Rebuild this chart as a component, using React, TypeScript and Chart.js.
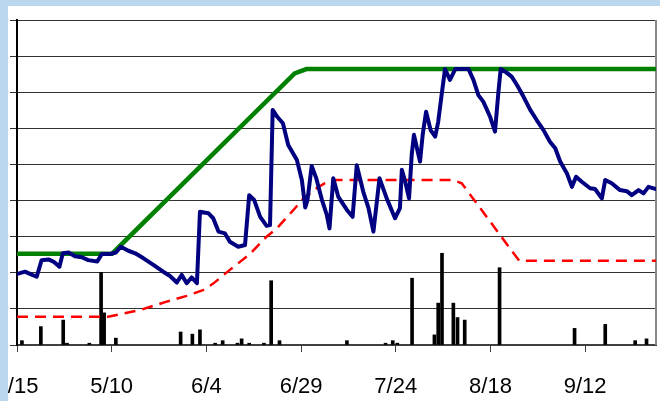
import React, { useEffect, useRef } from 'react';
import { Chart, registerables } from 'chart.js';

Chart.register(...registerables);

// x axis: days since 4/15
const xTickLabels = ['4/15', '5/10', '6/4', '6/29', '7/24', '8/18', '9/12'];

// navy series
const navyDays = [0.1, 2.1, 3.4, 5.2, 6.5, 8.3, 9.6, 11.2, 12.1, 13.6,
  15.3, 17.1, 18.8, 21.2, 22.4, 24.6, 26.1, 27.4, 29.4, 31.2,
  33.4, 36.0, 38.6, 40.4, 42.2, 43.5, 44.8, 46.1, 47.5, 48.3,
  50.5, 51.8, 53.2, 54.9, 56.2, 58.4, 60.2, 61.3, 62.6, 64.2,
  65.9, 66.8, 67.5, 68.7, 70.2, 71.6, 73.9, 75.2, 76.1, 76.7,
  77.8, 79.0, 80.5, 81.8, 82.5, 83.5, 84.8, 87.1, 88.6, 89.7,
  91.4, 92.8, 94.1, 95.7, 97.6, 99.8, 101.1, 101.6, 102.5, 103.5,
  104.2, 104.8, 105.7, 106.4, 107.1, 108.0, 109.2, 110.4, 111.2, 112.1,
  113.0, 114.3, 115.7, 119.2, 120.5, 121.8, 123.1, 124.9, 126.2, 127.1,
  127.7, 128.9, 130.6, 132.0, 133.7, 135.5, 137.2, 139.0, 140.7, 142.1,
  143.4, 145.2, 146.5, 147.6, 149.1, 151.3, 152.6, 154.4, 155.3, 157.0,
  159.2, 161.0, 162.3, 164.1, 165.4, 166.7, 168.7];
const navyValues = [19.7, 20.3, 19.7, 18.9, 23.5, 23.7, 23.1, 21.7, 25.4, 25.6,
  24.6, 24.3, 23.5, 23.1, 25.2, 25.2, 25.6, 27.2, 26.1, 25.4,
  24.0, 22.2, 20.3, 19.1, 17.3, 19.4, 17.1, 18.7, 17.1, 36.9,
  36.5, 35.1, 31.4, 30.9, 28.6, 27.2, 27.7, 41.5, 40.2, 35.5,
  33.0, 33.2, 65.1, 63.2, 61.4, 55.4, 51.2, 45.7, 38.1, 40.2,
  49.6, 46.2, 40.2, 36.0, 32.3, 46.2, 41.1, 37.4, 35.5, 49.8,
  42.5, 37.9, 31.4, 46.2, 40.6, 35.1, 37.9, 48.5, 45.2, 40.6,
  52.6, 58.2, 54.0, 50.8, 58.2, 64.6, 59.5, 57.7, 61.8, 69.2,
  76.4, 73.4, 76.4, 76.4, 73.4, 69.2, 67.4, 63.2, 59.1, 70.1,
  76.4, 75.7, 74.3, 72.0, 68.8, 65.1, 62.3, 59.5, 56.3, 54.5,
  50.8, 47.5, 43.8, 46.6, 45.2, 43.4, 43.2, 40.6, 45.7, 44.8,
  42.9, 42.6, 41.5, 42.9, 42.0, 43.8, 43.2];

// green series
const greenDays = [0, 25.1, 73.3, 76.4, 168.7];
const greenValues = [25.3, 25.3, 75.2, 76.4, 76.4];

// red dashed series
const redDays = [0, 24.0, 26.3, 32.5, 39.5, 44.8, 49.1, 51.8, 56.2, 61.5, 65.9, 68.6,
  73.0, 75.6, 79.1, 81.3, 83.5, 115.1, 117.4, 122.3, 127.5, 132.6, 168.7];
const redValues = [7.8, 7.8, 8.3, 9.7, 12.0, 13.6, 15.2, 17.0, 20.8, 25.2, 30.0, 32.3,
  37.4, 40.6, 43.4, 44.8, 45.7, 45.7, 44.8, 37.9, 30.5, 23.3, 23.3];

// black bars
const barDays = [1.3, 6.3, 12.2, 13.2, 19.1, 22.2, 23.0, 26.1, 43.2, 46.3,
  48.3, 52.3, 54.3, 58.2, 59.3, 61.3, 65.2, 67.1, 69.3, 87.1,
  97.3, 99.2, 100.4, 104.3, 110.2, 111.2, 112.2, 115.2, 116.3, 118.2,
  127.4, 147.2, 155.3, 163.2, 166.2];
const barValues = [1.2, 5.1, 6.9, 0.5, 0.5, 20.1, 8.9, 1.9, 3.6, 3.0,
  4.2, 0.5, 1.2, 0.5, 1.7, 0.5, 0.5, 17.8, 1.2, 1.2,
  0.5, 1.2, 0.5, 18.5, 2.8, 11.6, 25.4, 11.6, 7.6, 6.9,
  21.4, 4.6, 5.7, 1.2, 1.7];

const toPoints = (xs: number[], ys: number[]) => xs.map((x, i) => ({ x, y: ys[i] }));

export default function App() {
  const ref = useRef<HTMLCanvasElement>(null);

  useEffect(() => {
    const canvas = ref.current;
    if (!canvas) return;
    const borderPlugin = {
      id: 'plotRightBorder',
      beforeDatasetsDraw(chart: any) {
        const { ctx, chartArea } = chart;
        ctx.save();
        ctx.strokeStyle = '#8a8a8a';
        ctx.lineWidth = 2;
        ctx.beginPath();
        ctx.moveTo(chartArea.right, chartArea.top);
        ctx.lineTo(chartArea.right, chartArea.bottom);
        ctx.stroke();
        ctx.restore();
      },
    };
    const chart = new Chart(canvas, {
      type: 'line',
      data: {
        datasets: [
          {
            type: 'line',
            data: toPoints(navyDays, navyValues),
            borderColor: '#000080',
            borderWidth: 4,
            pointRadius: 0,
            tension: 0,
            borderJoinStyle: 'round',
            borderCapStyle: 'round',
            order: 0,
          },
          {
            type: 'line',
            data: toPoints(greenDays, greenValues),
            borderColor: '#008000',
            borderWidth: 4.5,
            pointRadius: 0,
            tension: 0,
            order: 1,
          },
          {
            type: 'line',
            data: toPoints(redDays, redValues),
            borderColor: '#FF0000',
            borderWidth: 2.5,
            borderDash: [11, 7],
            pointRadius: 0,
            tension: 0,
            order: 2,
          },
          {
            type: 'bar',
            data: toPoints(barDays, barValues),
            backgroundColor: '#000000',
            barThickness: 3,
            order: 3,
          } as any,
        ],
      },
      options: {
        responsive: false,
        animation: false,
        layout: { padding: { left: 0, right: 4, top: 14, bottom: 0 }, autoPadding: false } as any,
        plugins: { legend: { display: false }, tooltip: { enabled: false } },
        scales: {
          x: {
            type: 'linear',
            min: 0,
            max: 168.7,
            offset: false,
            afterFit: (s: any) => {
              s.height = 56;
              s.paddingLeft = 0;
              s.paddingRight = 0;
            },
            ticks: {
              stepSize: 25,
              includeBounds: false,
              autoSkip: false,
              maxRotation: 0,
              padding: 22,
              color: '#000',
              font: { family: '"Liberation Sans", Arial, sans-serif', size: 22 },
              callback: (v: any) => xTickLabels[Math.round(Number(v) / 25)] ?? '',
            },
            grid: { drawOnChartArea: false, drawTicks: true, tickLength: 7, color: '#404040', offset: false },
            border: { color: '#404040', width: 2 },
          },
          y: {
            min: 0,
            max: 90,
            afterFit: (s: any) => {
              s.width = 9;
              s.paddingTop = 0;
              s.paddingBottom = 0;
            },
            ticks: { stepSize: 10, display: false },
            grid: { color: '#333333', lineWidth: 1, tickLength: 7, drawTicks: true },
            border: { color: '#000000', width: 2 },
          },
        },
      } as any,
      plugins: [borderPlugin],
    });
    return () => chart.destroy();
  }, []);

  return (
    <div style={{ position: 'fixed', left: 0, top: 0, width: 660, height: 401, background: '#BBD7EE', overflow: 'hidden' }}>
      <div style={{ position: 'absolute', left: 8, top: 6, width: 652, height: 395, background: '#ffffff' }}>
        <canvas ref={ref} width={652} height={395} style={{ display: 'block', width: 652, height: 395 }} />
      </div>
    </div>
  );
}
